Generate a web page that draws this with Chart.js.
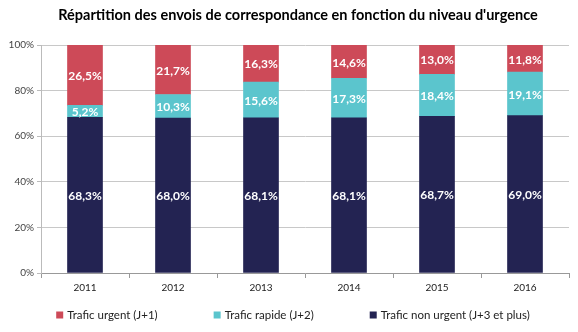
<!DOCTYPE html>
<html>
<head>
<meta charset="utf-8">
<script src="https://cdn.jsdelivr.net/npm/chart.js@4/dist/chart.umd.min.js"></script>
<style>
html,body{margin:0;padding:0;background:#fff;}
#wrap{width:578px;height:332px;position:relative;}
</style>
</head>
<body>
<div id="wrap"><canvas id="c" width="578" height="332"></canvas></div>
<script>
const years = ['2011','2012','2013','2014','2015','2016'];
const urgent = [26.5, 21.7, 16.3, 14.6, 13.0, 11.8];
const rapide = [5.2, 10.3, 15.6, 17.3, 18.4, 19.1];
const nonUrgent = [68.3, 68.0, 68.1, 68.1, 68.7, 69.0];
const yTicks = [0, 20, 40, 60, 80, 100];
const titleText = "Répartition des envois de correspondance en fonction du niveau d'urgence";

const FONT = 'Lato, "Open Sans", sans-serif';

const labelPlugin = {
  id: 'segLabels',
  afterDatasetsDraw(chart) {
    const ctx = chart.ctx;
    ctx.save();
    ctx.fillStyle = '#fff';
    ctx.font = 'bold 12px ' + FONT;
    ctx.textAlign = 'center';
    ctx.textBaseline = 'middle';
    chart.data.datasets.forEach((ds, i) => {
      const meta = chart.getDatasetMeta(i);
      meta.data.forEach((bar, j) => {
        const v = ds.data[j];
        const txt = v.toFixed(1).replace('.', ',') + '%';
        const yMid = (bar.y + bar.base) / 2;
        ctx.fillText(txt, bar.x, yMid + 1);
      });
    });
    ctx.restore();
  }
};

const titlePlugin = {
  id: 'offTitle',
  afterDraw(chart) {
    const ctx = chart.ctx;
    ctx.save();
    ctx.fillStyle = '#000';
    ctx.font = 'bold 14.5px ' + FONT;
    ctx.textAlign = 'center';
    ctx.textBaseline = 'middle';
    ctx.fillText(titleText, 298, 15);
    ctx.restore();
  }
};

// legend drawn on canvas from the datasets (reverse order), items spaced like the reference
const legendPlugin = {
  id: 'wideLegend',
  afterDraw(chart) {
    const ctx = chart.ctx;
    ctx.save();
    ctx.font = '11.5px ' + FONT;
    ctx.textBaseline = 'middle';
    const items = chart.data.datasets.slice().reverse();
    const box = 7, gapText = 4, gapItem = 56;
    const widths = items.map(d => box + gapText + ctx.measureText(d.label).width);
    const total = widths.reduce((a, b) => a + b, 0) + gapItem * (items.length - 1);
    let x = 293 - total / 2;
    const y = 315;
    items.forEach((d, i) => {
      ctx.fillStyle = d.backgroundColor;
      ctx.fillRect(x, y - box / 2, box, box);
      ctx.fillStyle = '#222';
      ctx.fillText(d.label, x + box + gapText, y);
      x += widths[i] + gapItem;
    });
    ctx.restore();
  }
};

new Chart(document.getElementById('c'), {
  type: 'bar',
  data: {
    labels: years,
    datasets: [
      { label: 'Trafic non urgent (J+3 et plus)', data: nonUrgent, backgroundColor: '#232352' },
      { label: 'Trafic rapide (J+2)', data: rapide, backgroundColor: '#5BC5CD' },
      { label: 'Trafic urgent (J+1)', data: urgent, backgroundColor: '#CD4A58' }
    ]
  },
  options: {
    responsive: false,
    animation: false,
    devicePixelRatio: 1,
    layout: { padding: { left: 0, right: 9, top: 45, bottom: 34 } },
    datasets: { bar: { barThickness: 35 } },
    plugins: {
      title: { display: false },
      legend: { display: false },
      tooltip: { enabled: false }
    },
    scales: {
      x: {
        stacked: true,
        grid: { drawOnChartArea: false, drawTicks: true, tickLength: 5, color: '#999', offset: true },
        border: { color: '#999' },
        ticks: { color: '#222', font: { family: FONT, size: 10 }, padding: 4 }
      },
      y: {
        stacked: true,
        min: 0,
        max: 100,
        afterBuildTicks: (s) => { s.ticks = yTicks.map(v => ({ value: v })); },
        afterFit: (s) => { s.width = 41; },
        grid: { color: '#c8c8c8', borderDash: [3, 3], tickLength: 4, tickBorderDash: [], tickColor: '#bbb' },
        border: { color: '#bbb' },
        ticks: { color: '#444', font: { family: FONT, size: 10 }, padding: 3, callback: v => v + '%' }
      }
    }
  },
  plugins: [labelPlugin, titlePlugin, legendPlugin]
});
</script>
</body>
</html>
